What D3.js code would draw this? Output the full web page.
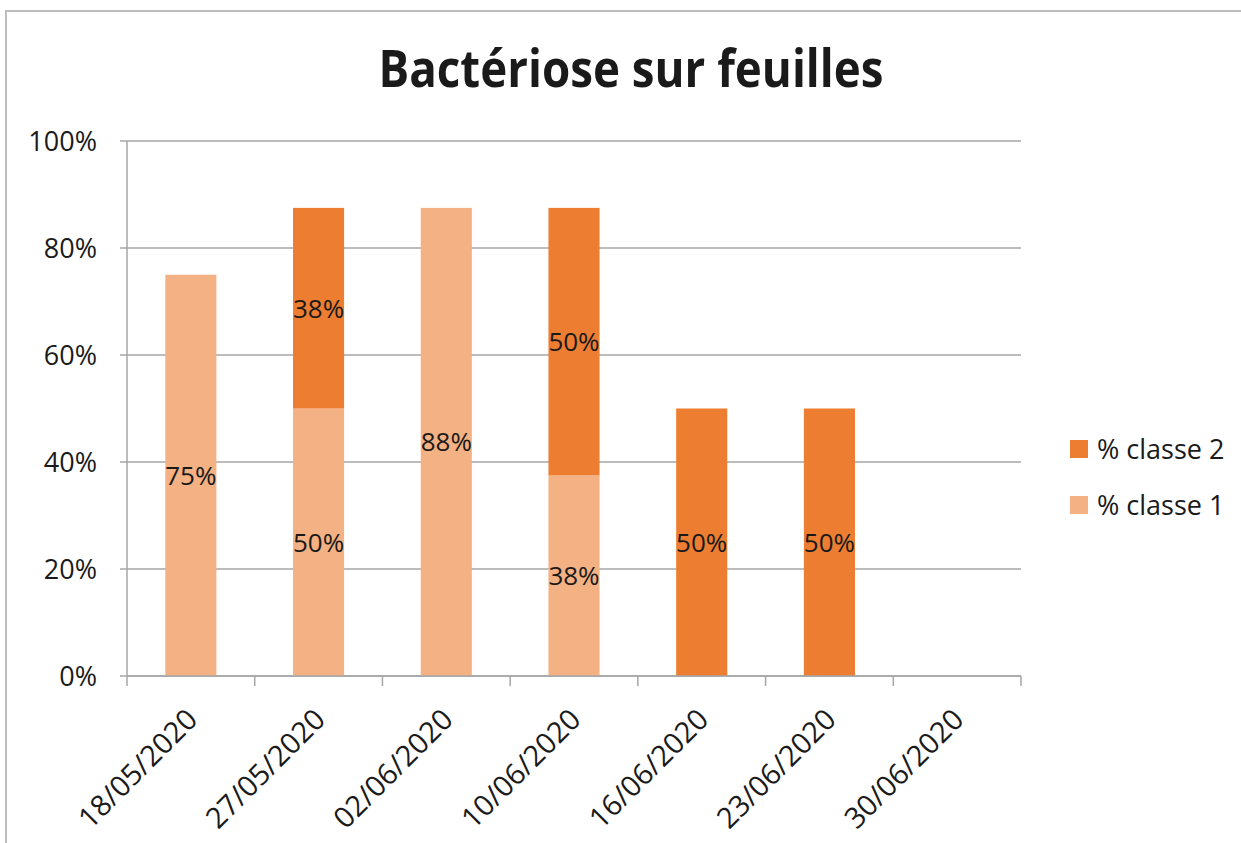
<!DOCTYPE html>
<html>
<head>
<meta charset="utf-8">
<script src="https://cdn.jsdelivr.net/npm/d3@7"></script>
<style>
  body { margin: 0; background: #fff; }
  svg text { font-family: "Open Sans", sans-serif; fill: #1a1a1a; }
</style>
</head>
<body>
<div id="chart"></div>
<script>
// data
const dates = ["18/05/2020", "27/05/2020", "02/06/2020", "10/06/2020", "16/06/2020", "23/06/2020", "30/06/2020"];
const classe1 = [0.75, 0.50, 0.875, 0.375, 0, 0, 0];
const classe2 = [0, 0.375, 0, 0.50, 0.50, 0.50, 0];
const yTicks = [0, 0.2, 0.4, 0.6, 0.8, 1.0];
const seriesNames = ["% classe 1", "% classe 2"];
const colors = {"% classe 1": "#F4B183", "% classe 2": "#ED7D31"};

const W = 1241, H = 843;
const margin = {top: 141, left: 127, right: 220, bottom: 167};

const svg = d3.select("#chart").append("svg")
    .attr("width", W).attr("height", H);

// outer frame (only top and left edges show in the picture)
svg.append("path")
    .attr("d", "M6," + H + " L6,11 L" + W + ",11")
    .attr("fill", "none").attr("stroke", "#bdbdbd").attr("stroke-width", 2);

const x = d3.scaleBand().domain(dates)
    .range([margin.left, W - margin.right])
    .paddingInner(0.6).paddingOuter(0.3);
const band = d3.scaleBand().domain(dates).range([margin.left, W - margin.right]);
const y = d3.scaleLinear().domain([0, 1]).range([H - margin.bottom, margin.top]);

// gridlines
svg.append("g").selectAll("line").data(yTicks).join("line")
    .attr("x1", margin.left - 7).attr("x2", W - margin.right)
    .attr("y1", d => y(d)).attr("y2", d => y(d))
    .attr("stroke", "#a6a6a6").attr("stroke-width", 1.5);

// y axis line
svg.append("line")
    .attr("x1", margin.left).attr("x2", margin.left)
    .attr("y1", y(1)).attr("y2", y(0))
    .attr("stroke", "#a6a6a6").attr("stroke-width", 1.5);

svg.append("g").selectAll("text").data(yTicks).join("text")
    .attr("x", 97).attr("y", d => y(d)).attr("dy", "0.36em")
    .attr("text-anchor", "end").attr("font-size", 27)
    .text(d3.format(".0%"));

// stacked bars
const rows = dates.map((d, i) => ({date: d, "% classe 1": classe1[i], "% classe 2": classe2[i]}));
const stack = d3.stack().keys(seriesNames)(rows);

const layers = svg.append("g").selectAll("g").data(stack).join("g")
    .attr("fill", s => colors[s.key]);

layers.selectAll("rect").data(s => s).join("rect")
    .attr("x", d => x(d.data.date))
    .attr("width", x.bandwidth())
    .attr("y", d => y(d[1]))
    .attr("height", d => y(d[0]) - y(d[1]));

// data labels, centred in each segment
const pct = d3.format(".0%");
layers.selectAll("text").data(s => s.filter(d => d[1] - d[0] > 0)).join("text")
    .attr("x", d => x(d.data.date) + x.bandwidth() / 2)
    .attr("y", d => y((d[0] + d[1]) / 2)).attr("dy", "0.36em")
    .attr("text-anchor", "middle").attr("font-size", 26)
    .text(d => pct(d[1] - d[0]));

// x axis
svg.append("line")
    .attr("x1", margin.left).attr("x2", W - margin.right)
    .attr("y1", y(0)).attr("y2", y(0))
    .attr("stroke", "#a6a6a6").attr("stroke-width", 1.5);
const bounds = dates.map(d => band(d)).concat([W - margin.right]);
svg.append("g").selectAll("line").data(bounds).join("line")
    .attr("x1", d => d).attr("x2", d => d)
    .attr("y1", y(0)).attr("y2", y(0) + 10)
    .attr("stroke", "#a6a6a6").attr("stroke-width", 1.5);

svg.append("g").selectAll("text").data(dates).join("text")
    .attr("transform", d => "translate(" + (band(d) + band.bandwidth() / 2 + 1) + "," + 714 + ") rotate(-45)")
    .attr("text-anchor", "end").attr("dy", "0.36em").attr("font-size", 29)
    .text(d => d);

// title
svg.append("text")
    .attr("x", 631).attr("y", 87)
    .attr("text-anchor", "middle").attr("font-size", 52).attr("font-weight", "bold")
    .attr("textLength", 505).attr("lengthAdjust", "spacingAndGlyphs")
    .text("Bactériose sur feuilles");

// legend
const legendKeys = ["% classe 2", "% classe 1"];
const legend = svg.append("g").selectAll("g").data(legendKeys).join("g")
    .attr("transform", (d, i) => "translate(1070," + (449 + i * 56) + ")");
legend.append("rect").attr("x", 0).attr("y", -9).attr("width", 18).attr("height", 18)
    .attr("fill", d => colors[d]);
legend.append("text").attr("x", 27).attr("dy", "0.36em").attr("font-size", 27)
    .text(d => d);
</script>
</body>
</html>
